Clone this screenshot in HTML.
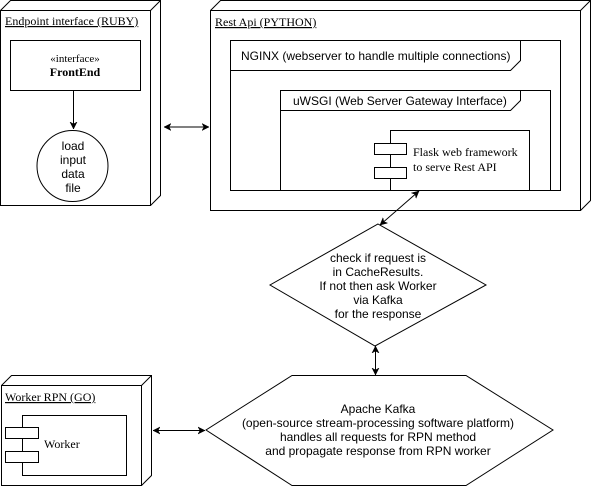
<!DOCTYPE html><html><head><style>body{margin:0;background:#fff}svg{display:block}</style></head><body>
<svg width="591" height="486" viewBox="0 0 591 486" xmlns="http://www.w3.org/2000/svg" font-family="Liberation Sans, sans-serif" font-size="12" fill="none" stroke="#000">
<defs><marker id="a" markerWidth="8" markerHeight="8" refX="7" refY="4" orient="auto-start-reverse" markerUnits="userSpaceOnUse"><path d="M0,0.5 L7,4 L0,7.5 L2,4 Z" fill="#000" stroke="#000" stroke-width="0.5"/></marker></defs>
<g stroke-width="1">
<path d="M0.5,10.5 L10.5,0.5 L160.5,0.5 L160.5,195.5 L150.5,205.5 M150.5,10.5 L160.5,0.5" />
<rect x="0.5" y="10.5" width="150" height="195" fill="#fff"/>
<rect x="10.5" y="40.5" width="130" height="50" fill="#fff"/>
<line x1="73.5" y1="90.5" x2="73.5" y2="129" marker-end="url(#a)"/>
<circle cx="72.5" cy="166" r="35.5" fill="#fff"/>
<line x1="164" y1="127" x2="209" y2="127" marker-start="url(#a)" marker-end="url(#a)"/>
<path d="M210.5,10.5 L220.5,0.5 L590.5,0.5 L590.5,200.5 L580.5,210.5 M580.5,10.5 L590.5,0.5"/>
<rect x="210.5" y="10.5" width="370" height="200" fill="#fff"/>
<rect x="230.5" y="40.5" width="330" height="150"/>
<path d="M230.5,70.5 L510.5,70.5 L520.5,60.5 L520.5,40.5"/>
<rect x="280.5" y="90.5" width="270" height="100"/>
<path d="M280.5,110.5 L510.5,110.5 L520.5,100.5 L520.5,90.5"/>
<rect x="390.5" y="130.5" width="139" height="60"/>
<rect x="374.5" y="143.5" width="32" height="11" fill="#fff"/>
<rect x="374.5" y="167.5" width="32" height="11" fill="#fff"/>
<path d="M378,224 L486,285 L375,346 L270,285 Z" fill="#fff"/>
<line x1="380" y1="225" x2="419" y2="191" marker-start="url(#a)" marker-end="url(#a)"/>
<line x1="375.5" y1="346" x2="375.5" y2="375" marker-start="url(#a)" marker-end="url(#a)"/>
<path d="M292,375.5 L466,375.5 L553,430 L466,485.5 L292,485.5 L206,430 Z" fill="#fff"/>
<line x1="153" y1="430.5" x2="205" y2="430.5" marker-start="url(#a)" marker-end="url(#a)"/>
<path d="M1.5,385.5 L11.5,375.5 L151.5,375.5 L151.5,475.5 L141.5,485.5 M141.5,385.5 L151.5,375.5"/>
<rect x="1.5" y="385.5" width="140" height="100" fill="#fff"/>
<rect x="22.5" y="415.5" width="104" height="60"/>
<rect x="5.5" y="427.5" width="33" height="11" fill="#fff"/>
<rect x="5.5" y="451.5" width="33" height="11" fill="#fff"/>
</g>
<g fill="#000" stroke="none">
<g font-family="Liberation Serif, serif">
<text x="5" y="25" text-decoration="underline">Endpoint interface (RUBY)</text>
<text x="75" y="62" text-anchor="middle" font-size="11">«interface»</text>
<text x="75" y="76" text-anchor="middle" font-weight="bold">FrontEnd</text>
<text x="215" y="26" text-decoration="underline">Rest Api (PYTHON)</text>
<text x="413" y="156">Flask web framework</text>
<text x="413" y="171">to serve Rest API</text>
<text x="5" y="401" text-decoration="underline">Worker RPN (GO)</text>
<text x="44" y="448">Worker</text>
</g>
<text x="73" y="150" text-anchor="middle">load</text>
<text x="73" y="164" text-anchor="middle">input</text>
<text x="73" y="178" text-anchor="middle">data</text>
<text x="73" y="192" text-anchor="middle">file</text>
<text x="241" y="60">NGINX (webserver to handle multiple connections)</text>
<text x="293" y="105">uWSGI (Web Server Gateway Interface)</text>
<g text-anchor="middle">
<text x="378" y="262">check if request is</text>
<text x="378" y="276">in CacheResults.</text>
<text x="378" y="290">If not then ask Worker</text>
<text x="378" y="304">via Kafka</text>
<text x="378" y="318">for the response</text>
<text x="378" y="413">Apache Kafka</text>
<text x="378" y="427">(open-source stream-processing software platform)</text>
<text x="378" y="441">handles all requests for RPN method</text>
<text x="378" y="455">and propagate response from RPN worker</text>
</g>
</g>
</svg>
</body></html>
